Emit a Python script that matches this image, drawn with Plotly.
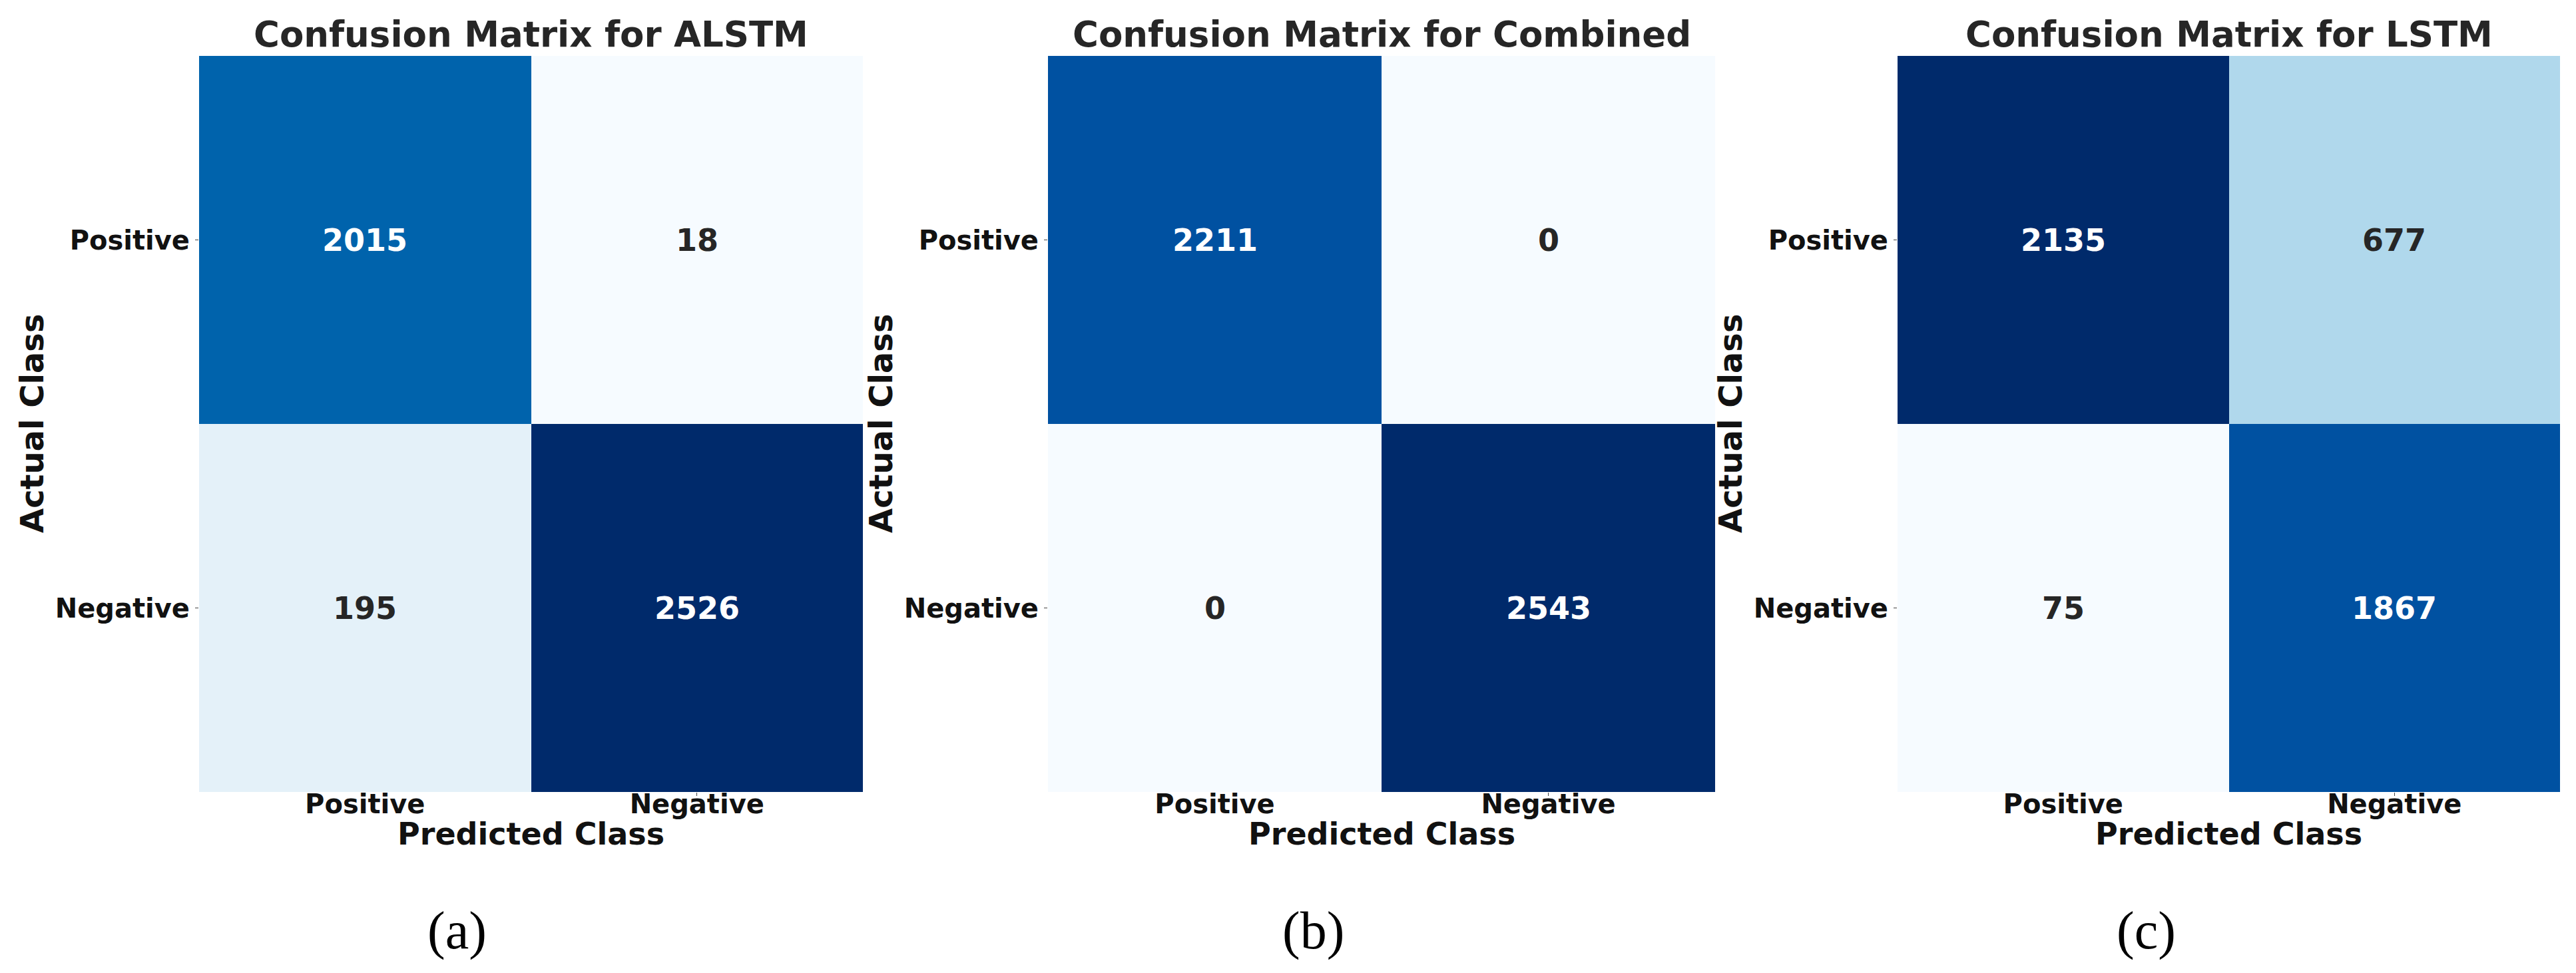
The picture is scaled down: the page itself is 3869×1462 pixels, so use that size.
import plotly.graph_objects as go

# ---------------- data ----------------
models = ["ALSTM", "Combined", "LSTM"]
classes = ["Positive", "Negative"]
cm_alstm = [[2015, 18], [195, 2526]]
cm_combined = [[2211, 0], [0, 2543]]
cm_lstm = [[2135, 677], [75, 1867]]
panel_labels = ["(a)", "(b)", "(c)"]
matrices = [cm_alstm, cm_combined, cm_lstm]

# ---------------- style ----------------
W, H = 3869, 1462
blues = [
    [0.000, "#f6fbff"], [0.125, "#d6e9f4"], [0.250, "#bfdef0"],
    [0.375, "#93cbe3"], [0.500, "#62aedb"], [0.625, "#3392cb"],
    [0.750, "#006eb3"], [0.875, "#0050a0"], [1.000, "#002a6b"],
]
x_px = [(291, 1288), (1566, 2568), (2842, 3837)]
y_px = (76, 1182)
label_x_px = [632, 1964, 3262]
FONT = "DejaVu Sans"

fig = go.Figure()
annotations = []
layout_axes = {}

for k, (name, cm) in enumerate(zip(models, matrices), start=1):
    sfx = "" if k == 1 else str(k)
    flat = [v for row in cm for v in row]
    zmin, zmax = min(flat), max(flat)
    fig.add_trace(go.Heatmap(
        z=cm, x=classes, y=classes,
        zmin=zmin, zmax=zmax, colorscale=blues, showscale=False,
        xaxis="x" + sfx, yaxis="y" + sfx,
        hovertemplate="Actual %{y}<br>Predicted %{x}<br>%{z}<extra></extra>",
    ))
    x0, x1 = x_px[k - 1]
    layout_axes["xaxis" + sfx] = dict(
        domain=[x0 / W, x1 / W], anchor="y" + sfx,
        type="category", categoryorder="array", categoryarray=classes,
        showgrid=False, zeroline=False, showline=False,
        ticks="outside", ticklen=5, tickwidth=1.2, tickcolor="#444444",
        ticklabelstandoff=-22,
        tickfont=dict(family=FONT, size=40, color="#111111", weight="bold"),
    )
    layout_axes["yaxis" + sfx] = dict(
        domain=[1 - y_px[1] / H, 1 - y_px[0] / H], anchor="x" + sfx,
        type="category", categoryorder="array", categoryarray=classes,
        autorange="reversed",
        showgrid=False, zeroline=False, showline=False,
        ticks="outside", ticklen=5, tickwidth=1.2, tickcolor="#444444",
        tickfont=dict(family=FONT, size=40, color="#111111", weight="bold"),
    )
    # cell values
    for i, row in enumerate(cm):
        for j, v in enumerate(row):
            frac = (v - zmin) / (zmax - zmin) if zmax > zmin else 0
            col = "#ffffff" if frac > 0.5 else "#262626"
            annotations.append(dict(
                x=classes[j], y=classes[i], xref="x" + sfx, yref="y" + sfx,
                text=str(v), showarrow=False,
                font=dict(family=FONT, size=46, color=col, weight="bold"),
            ))
    # title
    annotations.append(dict(
        x=0.5, xref="x" + sfx + " domain", y=1 - 43 / H, yref="paper",
        yanchor="middle", text="Confusion Matrix for " + name, showarrow=False,
        font=dict(family=FONT, size=53, color="#262626", weight="bold"),
    ))
    # y axis title
    annotations.append(dict(
        x=(x0 - 251) / W, xref="paper", y=0.5, yref="y" + sfx + " domain",
        text="Actual Class", textangle=-90, showarrow=False,
        xanchor="center", yanchor="middle",
        font=dict(family=FONT, size=48, color="#111111", weight="bold"),
    ))
    # x axis title
    annotations.append(dict(
        x=0.5, xref="x" + sfx + " domain", y=1 - 1245 / H, yref="paper",
        yanchor="middle", text="Predicted Class", showarrow=False,
        font=dict(family=FONT, size=46, color="#111111", weight="bold"),
    ))
    # panel label
    annotations.append(dict(
        x=label_x_px[k - 1] / W, xref="paper", y=1 - 1390 / H, yref="paper",
        yanchor="middle", text=panel_labels[k - 1], showarrow=False,
        font=dict(family="Liberation Serif", size=80, color="#000000"),
    ))

fig.update_layout(
    width=W, height=H,
    margin=dict(l=0, r=0, t=0, b=0),
    paper_bgcolor="white", plot_bgcolor="white",
    annotations=annotations,
    **layout_axes,
)

fig.write_html("out.html")
